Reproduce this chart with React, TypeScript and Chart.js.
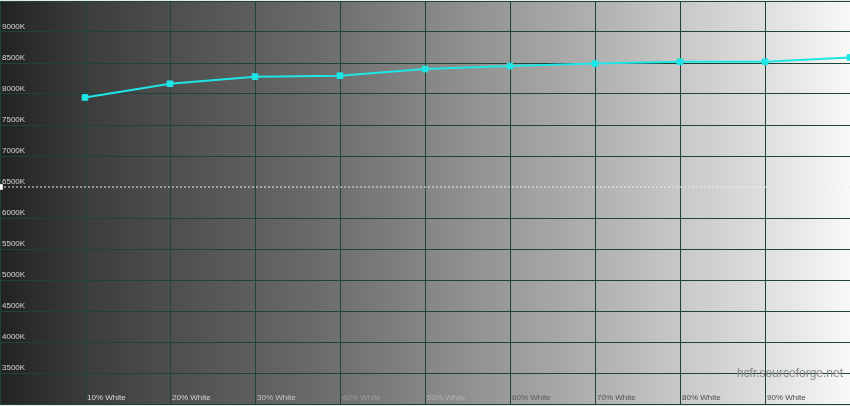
import React, { useEffect, useRef } from 'react';
import { Chart, registerables } from 'chart.js';

Chart.register(...registerables);

// ---- data ----
const categories = ['10% White', '20% White', '30% White', '40% White', '50% White', '60% White', '70% White', '80% White', '90% White', '100% White'];
const levels = [10, 20, 30, 40, 50, 60, 70, 80, 90, 100];
const colorTemps = [7945, 8165, 8280, 8295, 8403, 8450, 8490, 8520, 8520, 8590];
const referenceTemp = 6500;
const yMin = 3000;
const yMax = 9500;
const yStep = 500;
const yLabelMin = 3500;
const yLabelMax = 9000;
const xMin = 0;
const xMax = 100;
const xStep = 10;
const watermark = 'hcfr.sourceforge.net';

// ---- styles ----
const FONT = "'Liberation Sans', Arial, sans-serif";
const GRID = 'rgb(28,68,56)';
const SERIES = '#1fe6e6';
const xLabelColors: Record<number, string> = {
  10: '#d8d8d8', 20: '#d4d4d4', 30: '#c4c4c4', 40: '#9c9c9c', 50: '#b0b0b0',
  60: '#5c5c5c', 70: '#505050', 80: '#4c4c4c', 90: '#4a4a4a', 100: '#4a4a4a',
};

const zeroPad = (s: any) => {
  s.paddingTop = 0;
  s.paddingBottom = 0;
  s.paddingLeft = 0;
  s.paddingRight = 0;
};

const bgPlugin = {
  id: 'hcfrBackground',
  beforeDraw(chart: any) {
    const { ctx, chartArea, width, height } = chart;
    ctx.save();
    ctx.fillStyle = '#e9e9e9';
    ctx.fillRect(0, 0, width, height);
    const g = ctx.createLinearGradient(chartArea.left, 0, chartArea.right, 0);
    const stops: [number, string][] = [
      [0, '#222222'], [0.1, '#3c3c3c'], [0.2, '#4e4e4e'], [0.3, '#5e5e5e'],
      [0.4, '#707070'], [0.5, '#858585'], [0.6, '#9b9b9b'], [0.7, '#b0b0b0'],
      [0.8, '#c8c8c8'], [0.9, '#dedede'], [1, '#f8f8f8'],
    ];
    stops.forEach(([o, c]) => g.addColorStop(o, c));
    ctx.fillStyle = g;
    ctx.fillRect(chartArea.left, chartArea.top, chartArea.right - chartArea.left, chartArea.bottom - chartArea.top);
    ctx.restore();
  },
  afterDraw(chart: any) {
    const { ctx, chartArea } = chart;
    ctx.save();
    ctx.font = `12px ${FONT}`;
    ctx.fillStyle = '#8a8a8a';
    ctx.textAlign = 'right';
    ctx.textBaseline = 'alphabetic';
    const y = chart.scales.y.getPixelForValue(yLabelMin) + 4;
    ctx.fillText(watermark, chartArea.right - 7, y);
    ctx.restore();
  },
};

export default function App() {
  const ref = useRef<HTMLCanvasElement | null>(null);
  useEffect(() => {
    if (!ref.current) return;
    const chart = new Chart(ref.current, {
      type: 'line',
      data: {
        datasets: [
          {
            label: 'Measured',
            data: levels.map((x, i) => ({ x, y: colorTemps[i] })),
            borderColor: SERIES,
            backgroundColor: SERIES,
            borderWidth: 2,
            pointStyle: 'rect',
            pointRadius: 4,
            pointBorderWidth: 1,
            pointBorderColor: SERIES,
            pointBackgroundColor: SERIES,
            tension: 0,
            order: 0,
          },
          {
            label: 'Reference',
            data: [{ x: xMin, y: referenceTemp }, { x: xMax, y: referenceTemp }],
            borderColor: '#eeeeee',
            borderWidth: 1,
            borderDash: [2, 2],
            pointStyle: 'rect',
            pointRadius: [4, 0],
            pointBorderWidth: 0,
            pointBackgroundColor: '#ffffff',
            order: 1,
          },
        ],
      },
      options: {
        responsive: false,
        animation: false,
        events: [],
        layout: { padding: { left: 0, right: 0, top: 1, bottom: 2 }, autoPadding: false },
        plugins: { legend: { display: false }, tooltip: { enabled: false }, title: { display: false } },
        scales: {
          x: {
            type: 'linear',
            min: xMin,
            max: xMax,
            position: 'bottom',
            border: { display: false },
            grid: { color: GRID, lineWidth: 1, drawTicks: false },
            afterBuildTicks: (s: any) => {
              const t = [];
              for (let v = xMin; v <= xMax; v += xStep) t.push({ value: v });
              s.ticks = t;
            },
            afterFit: (s: any) => { s.height = 0; zeroPad(s); },
            ticks: {
              autoSkip: false,
              maxRotation: 0,
              minRotation: 0,
              align: 'start',
              mirror: true,
              padding: 1,
              labelOffset: 2,
              font: { family: FONT, size: 8 },
              color: (c: any) => xLabelColors[c.tick?.value] || '#888',
              callback: (v: any) => {
                const i = levels.indexOf(Number(v));
                return i >= 0 && Number(v) < xMax ? categories[i] : '';
              },
            },
          },
          y: {
            type: 'linear',
            min: yMin,
            max: yMax,
            position: 'left',
            border: { display: false },
            grid: {
              lineWidth: 1,
              drawTicks: false,
              color: (c: any) => (c.tick && c.tick.value === referenceTemp ? 'rgba(0,0,0,0)' : GRID),
            },
            afterFit: (s: any) => { s.width = 0; zeroPad(s); },
            ticks: {
              stepSize: yStep,
              mirror: true,
              padding: 2,
              labelOffset: -5,
              font: { family: FONT, size: 8 },
              color: '#d6d6d6',
              callback: (v: any) => (v >= yLabelMin && v <= yLabelMax ? `${v}K` : ''),
            },
          },
        },
      },
      plugins: [bgPlugin],
    });
    return () => chart.destroy();
  }, []);
  return (
    <div style={{ position: 'fixed', left: 0, top: 0, width: 850, height: 406 }}>
      <canvas ref={ref} width={850} height={406} style={{ display: 'block', width: 850, height: 406 }} />
    </div>
  );
}
